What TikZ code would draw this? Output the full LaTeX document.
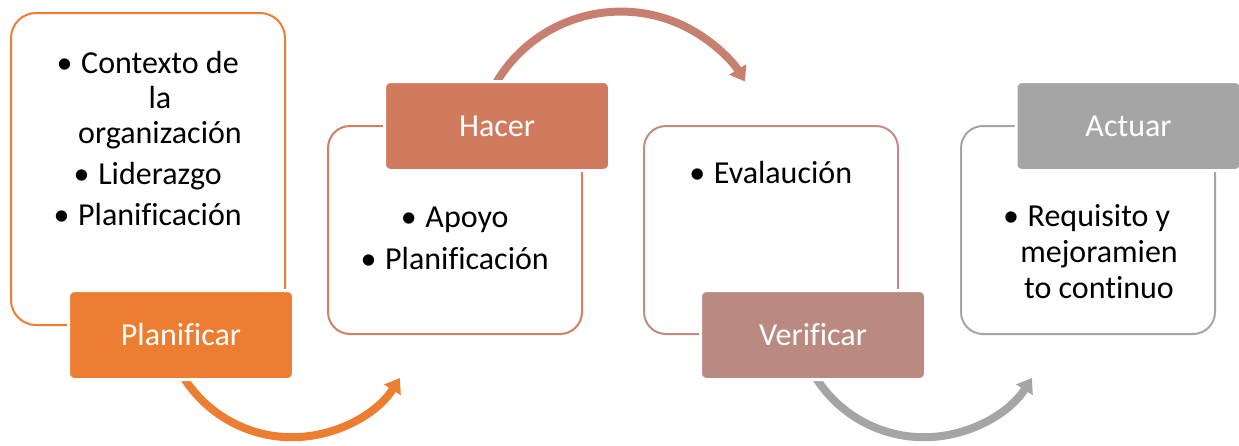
\documentclass[tikz,border=0pt]{standalone}
\usepackage{fontspec}
\setmainfont{Carlito}[Ligatures=NoCommon]
\usetikzlibrary{arrows.meta}
\definecolor{cA}{RGB}{237,125,49}
\definecolor{cB}{RGB}{209,123,94}
\definecolor{cBo}{RGB}{212,127,100}
\definecolor{cC}{RGB}{186,138,128}
\definecolor{cCo}{RGB}{193,141,131}
\definecolor{cD}{RGB}{165,165,165}
\definecolor{cArr}{RGB}{199,128,112}
\newcommand\bul{\llap{•\hspace{0.27em}}}
\tikzset{
  outl/.style={draw, line width=2pt, rounded corners=22pt, minimum width=254pt, minimum height=208pt, inner sep=0pt},
  lab/.style={draw=white, line width=3pt, rounded corners=6pt, minimum width=225pt, minimum height=89pt, inner sep=0pt, text=white, font=\fontsize{32}{35}\selectfont},
  txt/.style={align=center, inner sep=0pt, font=\fontsize{32}{35}\selectfont, anchor=base},
  cyc/.style={line width=8pt, -{Triangle[width=19pt,length=14pt]}},
}
\begin{document}
\begin{tikzpicture}[x=1pt,y=1pt]
\useasboundingbox (0,0) rectangle (1239,-445);
% outline boxes
\node[outl, draw=cA, rounded corners=25pt, minimum width=274pt, minimum height=312pt] (o1) at (148,-169) {};
\node[outl, draw=cBo] (o2) at (455,-230) {};
\node[outl, draw=cCo] (o3) at (771,-230) {};
\node[outl, draw=cD] (o4) at (1088,-230) {};
% arrows
\coordinate (a1s) at (184,-378);
\coordinate (a2s) at (496,-83);
\coordinate (a3s) at (816,-378);
\draw[cyc, cA] (a1s) arc[start angle=212.5, end angle=327.5, radius=128pt];
\draw[cyc, cArr] (a2s) arc[start angle=149.5, end angle=31.2, radius=145pt];
\draw[cyc, cD] (a3s) arc[start angle=212.5, end angle=327.5, radius=128pt];
% labels
\node[lab, fill=cA] (l1) at (181,-335) {Planificar};
\node[lab, fill=cB] (l2) at (497,-126) {Hacer};
\node[lab, fill=cC] (l3) at (813,-335) {Verificar};
\node[lab, fill=cD] (l4) at (1128.5,-126) {Actuar};
% texts (anchored at the baseline of the last line)
\node[txt] (t1) at (160,-225) {\bul Contexto de\\la\\organización\\[6pt]\bul Liderazgo\\[6pt]\bul Planificación};
\node[txt] (t2) at (467,-269) {\bul Apoyo\\[7pt]\bul Planificación};
\node[txt] (t3) at (783,-183) {\bul Evalaución};
\node[txt] (t4) at (1099,-298) {\bul Requisito y\\[1pt]mejoramien\\[1pt]to continuo};
\end{tikzpicture}
\end{document}
